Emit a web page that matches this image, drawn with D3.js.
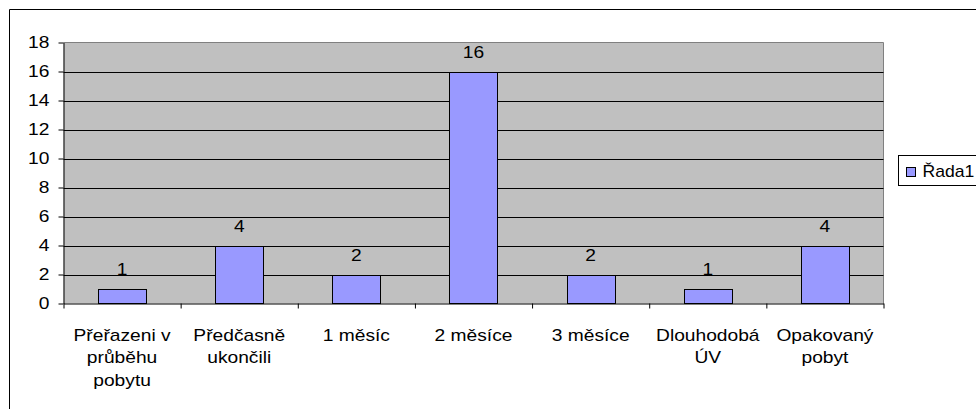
<!DOCTYPE html>
<html><head><meta charset="utf-8">
<script src="https://cdn.jsdelivr.net/npm/d3@7"></script>
<style>body{margin:0;background:#fff}svg{display:block}text{font-family:"Liberation Sans",Arial,sans-serif;fill:#000}</style>
</head><body><svg id="c" width="976" height="409"></svg>
<script>
const categories = [["Přeřazeni v","průběhu","pobytu"],["Předčasně","ukončili"],["1 měsíc"],["2 měsíce"],["3 měsíce"],["Dlouhodobá","ÚV"],["Opakovaný","pobyt"]];
const values = [1,4,2,16,2,1,4];
const yTicks = [0,2,4,6,8,10,12,14,16,18];
const seriesName = "Řada1";

const FS = 16, SX = 1.2;
const svg = d3.select("#c");
const L=63.5, R=883.5, T=42.5, B=303.5;
const x = d3.scaleBand().domain(d3.range(categories.length)).range([L,R]).paddingInner(0.59).paddingOuter(0.295);
const xb = d3.scaleLinear().domain([0,categories.length]).range([L,R]);
const y = d3.scaleLinear().domain([0,18]).range([B,T]);

function stretchText(sel, px, py, sx){
  sel.attr("transform",(d,i)=>`translate(${px(d,i)},${py(d,i)}) scale(${sx||SX},1)`).attr("x",0).attr("y",0);
}

// outer border
svg.append("path").attr("d","M9.5,409 V9.5 H976").attr("fill","none").attr("stroke","#000").attr("stroke-width",1);

// plot area
svg.append("rect").attr("x",L).attr("y",T).attr("width",R-L).attr("height",B-T).attr("fill","#c0c0c0");
svg.append("path").attr("d",`M${L},${T} H${R} V${B}`).attr("fill","none").attr("stroke","#808080");

// gridlines
svg.append("g").selectAll("line").data(yTicks.filter(d=>d>0&&d<18)).join("line")
  .attr("x1",L).attr("x2",R).attr("y1",d=>Math.round(y(d))+0.5).attr("y2",d=>Math.round(y(d))+0.5).attr("stroke","#000");

// y axis
const ya = svg.append("g").attr("transform",`translate(${L},0)`).call(d3.axisLeft(y).tickValues(yTicks).tickSize(5).tickSizeOuter(0).tickPadding(6.7));
ya.select(".domain").attr("stroke","#000");
ya.selectAll(".tick line").attr("stroke","#000");
ya.selectAll("text").attr("font-size",FS).style("font-family","Liberation Sans, Arial").attr("transform",`scale(${SX},1)`);

// x axis
const xa = svg.append("g").attr("transform",`translate(0,${B})`).call(d3.axisBottom(xb).tickValues(d3.range(categories.length+1)).tickSize(5).tickSizeOuter(0).tickFormat(""));
xa.select(".domain").attr("stroke","#000");
xa.selectAll(".tick line").attr("stroke","#000");

// category labels
const cl = svg.append("g").selectAll("text").data(categories).join("text")
  .attr("text-anchor","middle").attr("font-size",FS);
stretchText(cl,(d,i)=>x(i)+x.bandwidth()/2,()=>341);
cl.each(function(d){
  d3.select(this).selectAll("tspan").data(d).join("tspan").attr("x",0).attr("dy",(t,j)=>j?22.5:0).text(t=>t);
});

// bars
svg.append("g").selectAll("rect").data(values).join("rect")
  .attr("x",(d,i)=>Math.round(x(i))+0.5).attr("width",Math.round(x.bandwidth()))
  .attr("y",d=>Math.round(y(d))+0.5).attr("height",d=>B-Math.round(y(d))-0.5)
  .attr("fill","#9999ff").attr("stroke","#000");

// value labels
const vl = svg.append("g").selectAll("text").data(values).join("text")
  .attr("text-anchor","middle").attr("font-size",FS).text(d=>d);
stretchText(vl,(d,i)=>x(i)+x.bandwidth()/2,d=>y(d)-14);

// legend
const lg = svg.append("g");
lg.append("rect").attr("x",898.5).attr("y",155.5).attr("width",90).attr("height",30).attr("fill","#fff").attr("stroke","#000");
lg.append("rect").attr("x",906.5).attr("y",167.5).attr("width",9).attr("height",9).attr("fill","#9999ff").attr("stroke","#000");
const lt = lg.append("text").attr("font-size",FS).text(seriesName);
stretchText(lt,()=>922.5,()=>177,1.1);
</script></body></html>
